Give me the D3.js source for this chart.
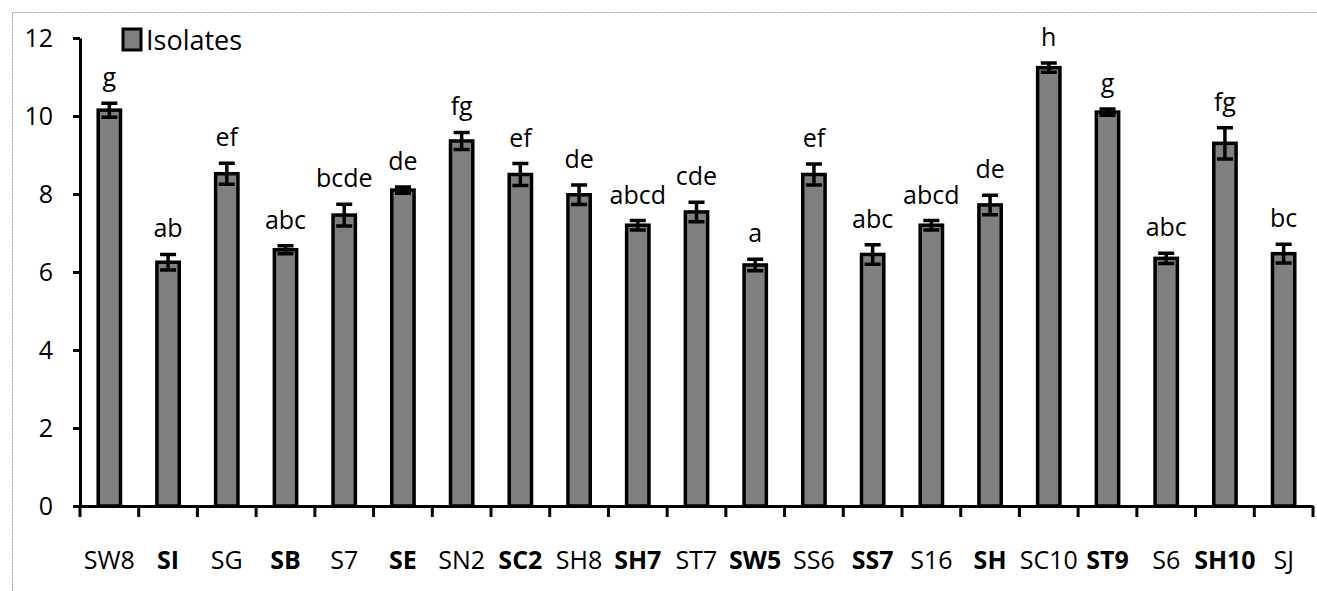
<!DOCTYPE html>
<html>
<head>
<meta charset="utf-8">
<script src="https://cdn.jsdelivr.net/npm/d3@7"></script>
<style>
  body { margin: 0; background: #fff; }
  svg text { font-family: "Open Sans", "Noto Sans", sans-serif; fill: #000; }
</style>
</head>
<body>
<script>
// data
var isolates = ["SW8","SI","SG","SB","S7","SE","SN2","SC2","SH8","SH7","ST7","SW5","SS6","SS7","S16","SH","SC10","ST9","S6","SH10","SJ"];
var values   = [10.15, 6.25, 8.52, 6.57, 7.46, 8.1, 9.36, 8.5, 7.98, 7.2, 7.54, 6.18, 8.5, 6.45, 7.2, 7.72, 11.24, 10.1, 6.35, 9.3, 6.47];
var errors   = [0.18, 0.2, 0.27, 0.1, 0.28, 0.08, 0.22, 0.28, 0.25, 0.12, 0.25, 0.15, 0.27, 0.25, 0.12, 0.25, 0.12, 0.08, 0.13, 0.4, 0.24];
var letters  = ["g","ab","ef","abc","bcde","de","fg","ef","de","abcd","cde","a","ef","abc","abcd","de","h","g","abc","fg","bc"];
var boldNames = ["SI","SB","SE","SC2","SH7","SW5","SS7","SH","ST9","SH10"];
var yTicks   = [0, 2, 4, 6, 8, 10, 12];

var W = 1317, H = 591;
var margin = {top: 38, right: 4, bottom: 85, left: 80};

var svg = d3.select("body").append("svg")
    .attr("width", W)
    .attr("height", H);

// dotted frame
svg.append("rect")
    .attr("x", 12.5).attr("y", 12.5)
    .attr("width", W).attr("height", H)
    .attr("fill", "none")
    .attr("stroke", "#9a9a9a")
    .attr("stroke-dasharray", "2,1");

var x = d3.scaleBand()
    .domain(isolates)
    .range([margin.left, W - margin.right])
    .padding(0);

var y = d3.scaleLinear()
    .domain([0, 12])
    .range([H - margin.bottom, margin.top]);

var barW = x.bandwidth() * 0.38;

// y axis
var yAxis = svg.append("g")
    .attr("transform", "translate(" + margin.left + ",0)")
    .call(d3.axisLeft(y).tickValues(yTicks).tickSize(7).tickPadding(20).tickSizeOuter(0));
yAxis.select(".domain").attr("stroke-width", 3).attr("stroke", "#000");
yAxis.selectAll(".tick line").attr("stroke-width", 3);
yAxis.selectAll("text").attr("font-size", 25).attr("fill", "#000").attr("font-family", "Open Sans");

// bars
var g = svg.selectAll(".bar")
    .data(isolates)
    .enter().append("g")
    .attr("class", "bar");

g.append("rect")
    .attr("x", function(d) { return x(d) + x.bandwidth() / 2 - barW / 2; })
    .attr("y", function(d, i) { return y(values[i]); })
    .attr("width", barW)
    .attr("height", function(d, i) { return y(0) - y(values[i]); })
    .attr("fill", "#808080")
    .attr("stroke", "#000")
    .attr("stroke-width", 3.5);

// error bars
var cap = 8;
g.append("path")
    .attr("d", function(d, i) {
        var cx = x(d) + x.bandwidth() / 2;
        var t = y(values[i] + errors[i]), b = y(values[i] - errors[i]);
        return "M" + (cx - cap) + "," + t + "H" + (cx + cap) +
               "M" + cx + "," + t + "V" + b +
               "M" + (cx - cap) + "," + b + "H" + (cx + cap);
    })
    .attr("fill", "none")
    .attr("stroke", "#000")
    .attr("stroke-width", 3.5);

// significance letters
g.append("text")
    .attr("x", function(d) { return x(d) + x.bandwidth() / 2; })
    .attr("y", function(d, i) { return y(values[i] + errors[i]) - 17; })
    .attr("text-anchor", "middle")
    .attr("font-size", 25)
    .text(function(d, i) { return letters[i]; });

// x axis
var xAxis = svg.append("g")
    .attr("transform", "translate(0," + y(0) + ")")
    .call(d3.axisBottom(x).tickSize(0).tickPadding(45));
xAxis.select(".domain").attr("stroke-width", 3).attr("stroke", "#000");
xAxis.selectAll("text")
    .attr("font-size", 25)
    .attr("fill", "#000")
    .attr("font-family", "Open Sans")
    .attr("font-weight", function(d) { return boldNames.indexOf(d) >= 0 ? "bold" : "normal"; });

// boundary ticks between categories
var bounds = isolates.map(function(d) { return x(d); }).concat([x.range()[1]]);
xAxis.selectAll(".bound")
    .data(bounds)
    .enter().append("line")
    .attr("x1", function(d) { return d; })
    .attr("x2", function(d) { return d; })
    .attr("y1", 0).attr("y2", 11)
    .attr("stroke", "#000")
    .attr("stroke-width", 3);

// legend
var leg = svg.append("g").attr("transform", "translate(123,29)");
leg.append("rect")
    .attr("width", 18).attr("height", 21)
    .attr("fill", "#808080")
    .attr("stroke", "#000")
    .attr("stroke-width", 3);
leg.append("text")
    .attr("x", 23).attr("y", 21)
    .attr("font-size", 27)
    .attr("fill", "#333")
    .text("Isolates");
</script>
</body>
</html>
